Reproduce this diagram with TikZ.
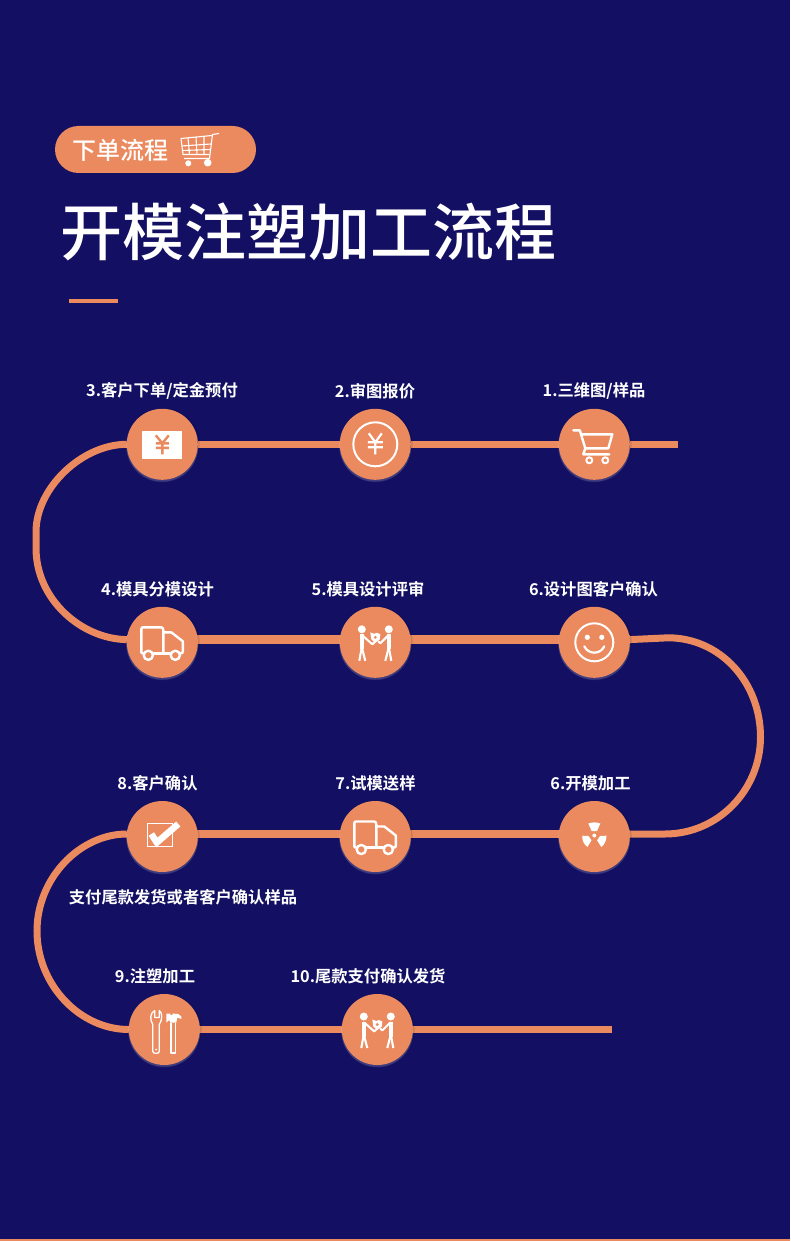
\documentclass[tikz,border=0pt]{standalone}
\usepackage{fontspec}
\setmainfont{Noto Sans CJK SC}
\newfontfamily\cjkbold{Noto Sans CJK SC Bold}
\newfontfamily\cjkmed{Noto Sans CJK SC Medium}
\usetikzlibrary{backgrounds,shadows}
\definecolor{navy}{HTML}{130F62}
\definecolor{orng}{HTML}{EB8A5E}
\tikzset{
  x=1pt,y=-1pt,
  every node/.style={inner sep=0pt,outer sep=0pt},
  stepdot/.style={circle,fill=orng,minimum size=71pt,
    general shadow={fill=black,opacity=.13,shadow xshift=1.8pt,shadow yshift=0pt,shadow scale=1},
    general shadow={fill=white,opacity=.10,shadow xshift=0pt,shadow yshift=-1pt,shadow scale=1.02},
    general shadow={fill=white,opacity=.10,shadow xshift=0pt,shadow yshift=-2pt,shadow scale=1.01}},
  steplabel/.style={text=white,font=\cjkbold\fontsize{16.3}{20}\selectfont},
  trail/.style={draw=orng,line width=7pt},
  icon/.style={draw=white,line width=2.4pt,line join=round,line cap=round},
  pics/truck/.style={code={
    \draw[icon] (-21,10) -- (-21,-13) .. controls (-21,-15) and (-20,-15) .. (-19,-15) -- (-1,-15) .. controls (0,-15) and (1,-14) .. (1,-12) -- (1,11);
    \draw[icon] (1,-10) -- (9,-10) -- (20.5,-1) -- (20.5,9) .. controls (20.5,11) and (20,11) .. (18,11);
    \draw[icon] (-21,10) .. controls (-21,11) and (-20,11) .. (-18,11);
    \draw[icon] (-9,11) -- (8,11);
    \draw[icon,fill=orng] (-14,13) circle[radius=4.6];
    \draw[icon,fill=orng] (13,13) circle[radius=4.6];
  }},
  pics/people/.style={code={
    \fill[white] (-13.5,-13) circle[radius=4];
    \fill[white] (13.5,-13) circle[radius=4];
    \draw[icon,line width=3.6pt,line cap=butt] (-13.5,-8) -- (-13.5,7);
    \draw[icon,line width=3.6pt,line cap=butt] (13.5,-8) -- (13.5,7);
    \draw[icon,line width=2.1pt,line cap=butt] (-13.5,5) -- (-16,18.5);
    \draw[icon,line width=2.1pt,line cap=butt] (-13.5,5) -- (-10,18.5);
    \draw[icon,line width=2.1pt,line cap=butt] (13.5,5) -- (10,18.5);
    \draw[icon,line width=2.1pt,line cap=butt] (13.5,5) -- (16,18.5);
    \draw[icon,line width=2pt] (-13,-7) -- (-3,2) -- (0,-1);
    \draw[icon,line width=2pt] (13,-7) -- (5,1) -- (3,-1);
    \fill[white] (-5,-10) -- (-1,-8.5) -- (1.5,-9.5) -- (5,-8) -- (4.5,-3) -- (0,0.5) -- (-4,-3) -- cycle;
    \fill[orng] (0,-5) circle[radius=1.6];
  }},
}
\begin{document}
\begin{tikzpicture}
\useasboundingbox (0,0) rectangle (790,1241);

% title block
\node[fill=orng,rounded corners=23.5pt,minimum width=201pt,minimum height=47pt] (pill) at (155.5,149.5) {};
\node[text=white,font=\cjkmed\fontsize{24}{28}\selectfont] (pilltext) at (120.5,150) {下单流程};
\node[text=white,font=\cjkmed\fontsize{62}{70}\selectfont] (title) at (308.5,232) {开模注塑加工流程};
\node[fill=orng,minimum width=49pt,minimum height=4pt] (rule) at (93.5,300.5) {};

% small cart in the pill
\draw[white,line width=1.1pt,line join=round]
  (181,138.5) -- (212,135.5) (219,133.5) -- (212.5,134.5) -- (209.5,158.5) -- (184,158.5)
  (181,138.5) -- (183,154.5) -- (210,154.5)
  (181.5,146) -- (211,144) (182.3,150.5) -- (210.5,149.5)
  (188,137.8) -- (189.5,154.5) (196,137) -- (197,154.5) (204,136.3) -- (204,154.5);
\fill[white] (188.3,163.3) circle[radius=3] (207.7,162.7) circle[radius=3.8];

% steps
\node[stepdot] (s3) at (162.3,444.3) {};
\node[stepdot] (s2) at (375.3,444.3) {};
\node[stepdot] (s1) at (594.3,444.3) {};
\node[stepdot] (s4) at (162.3,642.3) {};
\node[stepdot] (s5) at (375.3,642.3) {};
\node[stepdot] (s6) at (594.3,642.3) {};
\node[stepdot] (s8) at (162.3,836.5) {};
\node[stepdot] (s7) at (375.3,836.5) {};
\node[stepdot] (s6b) at (594.3,836.5) {};
\node[stepdot] (s9) at (164.3,1029.5) {};
\node[stepdot] (s10) at (377.3,1029.5) {};

\coordinate (start) at (678,444.3);
\coordinate (finish) at (612,1029.5);

\begin{pgfonlayer}{background}
  \fill[navy] (0,0) rectangle (790,1241);
  \fill[orng] (0,1239.3) rectangle (790,1241);
  \draw[trail] (start) -- (s1) -- (s2) -- (s3);
  \draw[trail] (s3.west) .. controls (82,444.3) and (36,488) .. (36,532) -- (36,548)
     .. controls (36,600) and (82,639) .. ([yshift=2.7pt]s4.west);
  \draw[trail,line width=8.5pt] ([yshift=2.7pt]s4.west) -- ([yshift=2.7pt]s5.east);
  \draw[trail,line width=8.5pt] ([yshift=2.7pt]s5.east) -- ([yshift=2.7pt]s6.east);
  \draw[trail] ([yshift=2.7pt]s6.east) -- (668,637.8) .. controls (720,637.8) and (760.5,682) .. (760.5,737)
     .. controls (760.5,790) and (718,834) .. (665,834) -- ([yshift=2.5pt]s6b.east);
  \draw[trail,line width=7.7pt] ([yshift=2.5pt]s6b.east) -- ([yshift=2.5pt]s7.west);
  \draw[trail,line width=7.7pt] ([yshift=2.5pt]s7.west) -- ([yshift=2.5pt]s8.west);
  \draw[trail] ([yshift=2.5pt]s8.west) .. controls (80,834) and (37,878) .. (37,931)
     .. controls (37,985) and (80,1029.5) .. (s9.west);
  \draw[trail,line width=7.7pt] (s9.west) -- (s10.east);
  \draw[trail,line width=7.7pt] (s10.east) -- (finish);
\end{pgfonlayer}

% labels
\node[steplabel] (l3) at (162,391) {3.客户下单/定金预付};
\node[steplabel] (l2) at (375,391) {2.审图报价};
\node[steplabel] (l1) at (594,391) {1.三维图/样品};
\node[steplabel] (l4) at (157.5,589) {4.模具分模设计};
\node[steplabel] (l5) at (368,589) {5.模具设计评审};
\node[steplabel] (l6) at (593.5,589) {6.设计图客户确认};
\node[steplabel] (l8) at (157.5,783) {8.客户确认};
\node[steplabel] (l7) at (375.5,783) {7.试模送样};
\node[steplabel] (l6b) at (590.5,783) {6.开模加工};
\node[steplabel] (note) at (183,897) {支付尾款发货或者客户确认样品};
\node[steplabel] (l9) at (155,976) {9.注塑加工};
\node[steplabel] (l10) at (368,976) {10.尾款支付确认发货};

% icon: bank note
\begin{scope}[shift={(s3.center)}]
  \fill[white] (-20,-13) rectangle (20,14.5);
  \draw[orng,line width=2.4pt] (-6.5,-9) -- (0,-1) -- (6.5,-9) (-6.5,-1) -- (6.5,-1) (-6.5,3.5) -- (6.5,3.5) (0,-1) -- (0,10);
\end{scope}
% icon: yen coin
\begin{scope}[shift={(s2.center)}]
  \draw[white,line width=2pt] (0,0) circle[radius=22];
  \draw[white,line width=2.2pt] (-6.5,-11) -- (0,-2) -- (6.5,-11) (-7.5,-2) -- (7.5,-2) (-7.5,3) -- (7.5,3) (0,-2) -- (0,10);
\end{scope}
% icon: shopping cart
\begin{scope}[shift={(s1.center)}]
  \draw[icon] (-21,-14) -- (-14.5,-14) -- (-9,4) -- (14,4) -- (18,-10) -- (-13,-10);
  \draw[icon] (-9,4) -- (-11,10) -- (15,10);
  \draw[icon,line width=2pt] (-5,16) circle[radius=3];
  \draw[icon,line width=2pt] (11,16) circle[radius=3];
\end{scope}
% icon: trucks and people
\pic at (s4.center) {truck};
\pic at (s5.center) {people};
\pic at (s7.center) {truck};
\pic at (s10.center) {people};
% icon: smile
\begin{scope}[shift={(s6.center)}]
  \draw[white,line width=2pt] (0,0) circle[radius=19];
  \fill[white] (-7,-5) circle[radius=2.6] (7.5,-5) circle[radius=2.6];
  \draw[white,line width=2.2pt,line cap=round] (-10,4) .. controls (-6,12.5) and (6,12.5) .. (10,4);
\end{scope}
% icon: check box
\begin{scope}[shift={(s8.center)}]
  \draw[white,line width=.9pt] (-15,-13) rectangle (9.7,10);
  \draw[white,line width=6.5pt] (-11,-2.5) -- (-5.5,6) -- (16,-12.5);
\end{scope}
% icon: radiation
\begin{scope}[shift={(s6b.center)}]
  \fill[white] (0,-1) circle[radius=2];
  \fill[white] (-2.7,-5.5) -- (-6,-13) .. controls (-2,-14.5) and (2,-14.5) .. (6,-13) -- (2.7,-5.5) -- cycle;
  \fill[white] (-5.8,-0.5) -- (-12,-0.8) .. controls (-12.5,3) and (-10.5,8) .. (-7,10.5) -- (-2.8,3.8) -- cycle;
  \fill[white] (5.8,-0.5) -- (12,-0.8) .. controls (12.5,3) and (10.5,8) .. (7,10.5) -- (2.8,3.8) -- cycle;
\end{scope}
% icon: tools
\begin{scope}[shift={(s9.center)}]
  \draw[white,line width=1.3pt,line join=round]
    (-9.5,-19) .. controls (-14,-17) and (-15,-10) .. (-11.5,-5) -- (-11.5,22) .. controls (-11.5,24.5) and (-5,24.5) .. (-5,22) -- (-5,-5)
    .. controls (-1.5,-10) and (-2,-17) .. (-5,-19) -- (-5,-12) -- (-9.5,-12) -- cycle;
  \fill[white] (-8.2,20) circle[radius=1];
  \draw[white,line width=1.3pt,line join=round] (6.8,-7) -- (6.8,23.5) -- (11.5,23.5) -- (11.5,-7);
  \fill[white] (2,-16) -- (6,-16) -- (6,-14.5) -- (8,-14.5) -- (8,-16) -- (14,-15.5) -- (17,-13) -- (17,-10.5) -- (13,-12) -- (12,-7) -- (6,-7) -- (5,-9.5) -- (2,-7) -- cycle;
\end{scope}
\end{tikzpicture}
\end{document}
